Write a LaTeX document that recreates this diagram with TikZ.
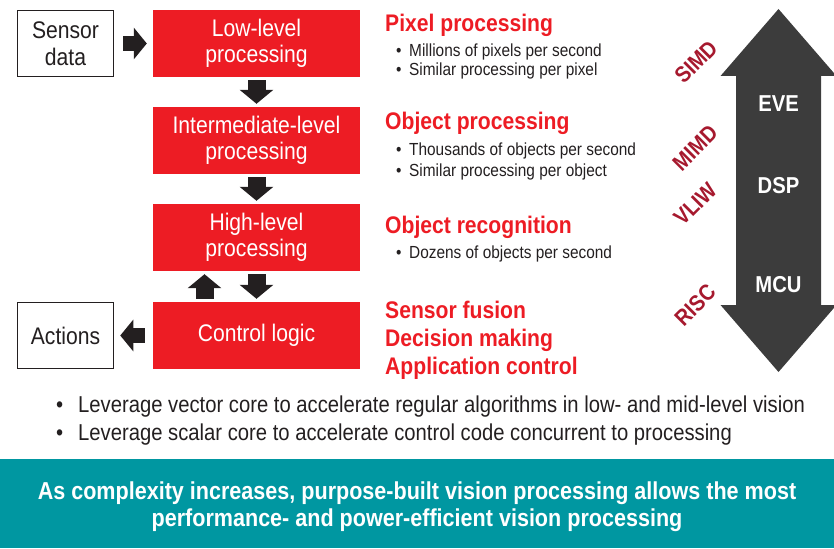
\documentclass[tikz,border=0pt]{standalone}
\usepackage{fontspec}
\setmainfont[FakeStretch=0.88]{Liberation Sans}
\usetikzlibrary{arrows.meta,calc}
\definecolor{tired}{HTML}{ED1C24}
\definecolor{tigray}{HTML}{3C3C3C}
\definecolor{tiink}{HTML}{231F20}
\definecolor{ticrimson}{HTML}{A6192E}
\definecolor{titeal}{HTML}{0097A1}
\tikzset{
  redbox/.style={fill=tired, draw=none, minimum width=207pt, minimum height=67pt, inner sep=0pt,
    text=white, align=center, font=\fontsize{24}{26.5}\selectfont},
  whitebox/.style={fill=white, draw=tiink, line width=1.5pt, minimum width=96pt, minimum height=66pt, inner sep=0pt,
    text=tiink, align=center, font=\fontsize{24}{26.5}\selectfont},
  vbigarrow/.style={draw=tiink, line width=18pt, line cap=butt, shorten <=3pt, shorten >=3pt,
    -{Triangle[length=14pt, width=33pt]}},
  hbigarrow/.style={draw=tiink, line width=15pt, line cap=butt,
    -{Triangle[length=13pt, width=31pt]}},
  heading/.style={anchor=base west, inner sep=0pt, text=tired, font=\fontsize{24}{27}\bfseries\selectfont},
  bulletitem/.style={anchor=base west, inner sep=0pt, text=tiink, font=\fontsize{17.5}{20}\selectfont},
  isa/.style={rotate=45, inner sep=0pt, text=ticrimson, font=\fontsize{22.5}{24}\bfseries\selectfont},
  core/.style={inner sep=0pt, text=white, font=\fontsize{23}{26}\bfseries\selectfont},
  bottomitem/.style={anchor=base west, inner sep=0pt, text=tiink, font=\fontsize{23}{26}\selectfont},
}
\begin{document}
\begin{tikzpicture}[x=1pt,y=-1pt]
\useasboundingbox (0,0) rectangle (834,548);
% boxes
\node[whitebox] (sensor) at (65.5,43.5) {Sensor\\data};
\node[redbox] (low) at (256.5,43.5) {Low-level\\processing};
\node[redbox] (mid) at (256.5,140.5) {Intermediate-level\\processing};
\node[redbox] (high) at (256.5,237.5) {High-level\\processing};
\node[redbox] (ctrl) at (256.5,335.5) {Control logic};
\node[whitebox] (actions) at (65.5,335.5) {Actions};
% connectors
\draw[hbigarrow, shorten <=9pt, shorten >=6pt] (sensor.east) -- (low.west);
\draw[vbigarrow] (low.south) -- (mid.north);
\draw[vbigarrow] (mid.south) -- (high.north);
\draw[vbigarrow] (high.south) -- (ctrl.north);
\draw[vbigarrow] ([xshift=-52pt]ctrl.north) -- ([xshift=-52pt]high.south);
\draw[hbigarrow, shorten <=8pt, shorten >=6pt] (ctrl.west) -- (actions.east);
% right-hand texts
\node[heading] (h1) at (385,31.5) {Pixel processing};
\node[bulletitem] (b1) at (396,57) {\makebox[13pt][l]{•}Millions of pixels per second};
\node[bulletitem] (b2) at (396,76) {\makebox[13pt][l]{•}Similar processing per pixel};
\node[heading] (h2) at (385,130) {Object processing};
\node[bulletitem] (b3) at (396,156) {\makebox[13pt][l]{•}Thousands of objects per second};
\node[bulletitem] (b4) at (396,176) {\makebox[13pt][l]{•}Similar processing per object};
\node[heading] (h3) at (385,233) {Object recognition};
\node[bulletitem] (b5) at (396,258) {\makebox[13pt][l]{•}Dozens of objects per second};
\node[heading] (h4) at (385,318) {Sensor fusion};
\node[heading] (h5) at (385,346) {Decision making};
\node[heading] (h6) at (385,374) {Application control};
% big double arrow
\fill[tigray] (778.5,9) -- (836.5,76) -- (821,76) -- (821,305) -- (836.5,305) -- (778.5,372)
  -- (720.5,305) -- (736,305) -- (736,76) -- (720.5,76) -- cycle;
\node[core] (eve) at (778.5,104) {EVE};
\node[core] (dsp) at (778.5,186) {DSP};
\node[core] (mcu) at (778.5,285) {MCU};
\node[isa] (simd) at (696,62) {SIMD};
\node[isa] (mimd) at (695,148) {MIMD};
\node[isa] (vliw) at (695,204) {VLIW};
\node[isa] (risc) at (695,305) {RISC};
% bottom bullets
\node[bottomitem] (l1) at (56,412) {\makebox[22pt][l]{•}Leverage vector core to accelerate regular algorithms in low- and mid-level vision};
\node[bottomitem] (l2) at (56,440) {\makebox[22pt][l]{•}Leverage scalar core to accelerate control code concurrent to processing};
% teal band
\fill[titeal] (0,459) rectangle (834,548);
\node[inner sep=0pt, text=white, align=center, font=\fontsize{24.5}{27}\bfseries\selectfont, anchor=base] (msg) at (417,526)
  {As complexity increases, purpose-built vision processing allows the most\\performance- and power-efficient vision processing};
\end{tikzpicture}
\end{document}
